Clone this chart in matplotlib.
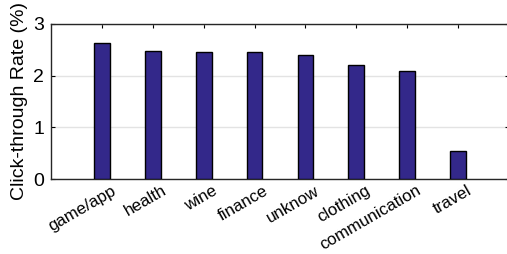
import numpy as np
import matplotlib.pyplot as plt
import matplotlib.transforms as mtransforms

categories = ['game/app', 'health', 'wine', 'finance', 'unknow',
              'clothing', 'communication', 'travel']
ctr = [2.64, 2.48, 2.45, 2.45, 2.40, 2.20, 2.10, 0.55]

plt.rcParams['font.family'] = ['Liberation Sans', 'DejaVu Sans']

fig = plt.figure(figsize=(5.07, 2.54), dpi=100)
# axes from x=51px to ~509px (right spine just outside the picture)
ax = fig.add_axes([51 / 507, 1 - 179 / 254, 458 / 507, 155 / 254])

x = np.arange(1, len(categories) + 1)
ax.bar(x, ctr, width=0.31, color='#33288a', edgecolor='black', linewidth=1.0, zorder=3)

ax.set_xlim(0, 9)
ax.set_ylim(0, 3)
ax.set_yticks([0, 1, 2, 3])
ax.set_xticks(x)
ax.set_xticklabels([])

# rotated category labels, nudged right like the MATLAB original
trans = ax.get_xaxis_transform() + mtransforms.ScaledTranslation(9 / 100, -4 / 100, fig.dpi_scale_trans)
for xi, cat in zip(x, categories):
    ax.text(xi, 0, cat, transform=trans, rotation=30, ha='right', va='top',
            rotation_mode='anchor', fontsize=12.2)

ax.tick_params(axis='y', labelsize=14, direction='in', right=True, length=3, width=0.8, pad=5)
ax.tick_params(axis='x', direction='in', top=True, length=3, width=0.8)
ax.set_ylabel('Click-through Rate (%)', fontsize=14, labelpad=4)

ax.grid(axis='y', color='#e3e3e3', linewidth=1.0, zorder=0)
for s in ax.spines.values():
    s.set_linewidth(1.0)
    s.set_color('#262626')

fig.savefig('out.png', dpi=100)
